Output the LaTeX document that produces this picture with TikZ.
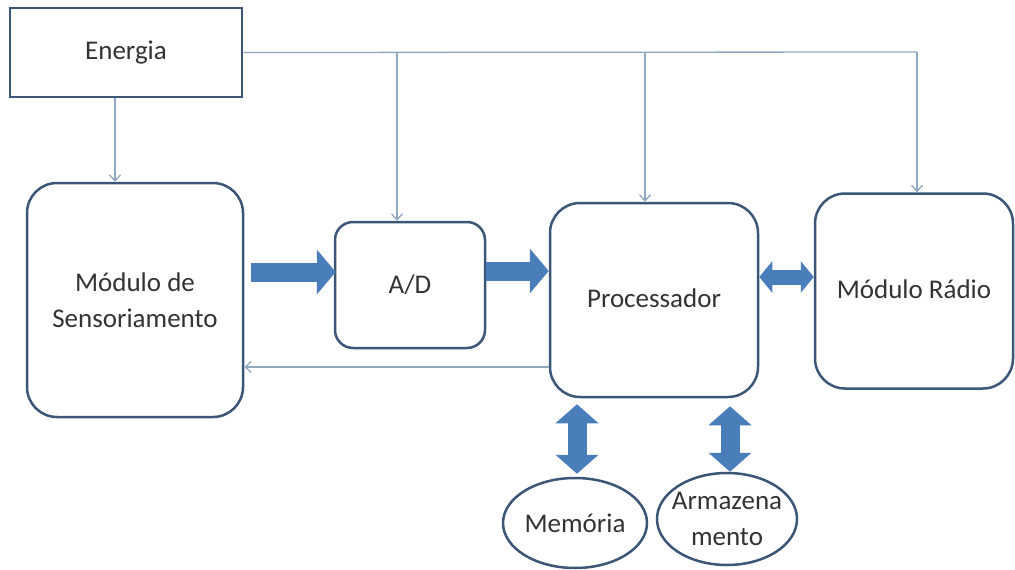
\documentclass[tikz,border=0pt]{standalone}
\usepackage{fontspec}
\setmainfont{Carlito}
\usetikzlibrary{arrows.meta,calc,shapes.geometric}
\definecolor{edge}{HTML}{3B5676}
\definecolor{flow}{HTML}{4A7EBB}
\definecolor{feed}{HTML}{8FA7C1}
\definecolor{ink}{HTML}{333333}
\begin{document}
\begin{tikzpicture}[x=1pt,y=-1pt,
  lbl/.style={text=ink,font=\fontsize{27}{36}\selectfont,align=center},
  blockbox/.style={draw=edge,line width=2.5pt,fill=white,inner sep=0pt,lbl},
  roundbox/.style={blockbox,rounded corners=#1},
  oval/.style={ellipse,draw=edge,line width=2.5pt,fill=white,inner sep=0pt},
  feedline/.style={draw=feed,line width=1.3pt,-{Straight Barb[length=6pt,width=11pt]}},
  fat/.style={draw=flow,line width=19pt,-{Triangle[length=19pt,width=44pt]}},
]
\useasboundingbox (0,0) rectangle (1015,570);

% blocks
\node[blockbox,minimum width=232pt,minimum height=89pt] (energia) at (126,52.5) {Energia};
\node[roundbox=30pt,minimum width=216pt,minimum height=234pt] (sens) at (135,300) {Módulo de\\Sensoriamento};
\node[roundbox=18pt,minimum width=150pt,minimum height=126pt] (ad) at (410,285) {A/D};
\node[roundbox=30pt,minimum width=208pt,minimum height=194pt] (proc) at (654,300) {\raisebox{3pt}{Processador}};
\node[roundbox=30pt,minimum width=198pt,minimum height=195pt] (radio) at (914,291) {\raisebox{3pt}{Módulo Rádio}};
\node[oval,minimum width=144pt,minimum height=90pt,
      label={[lbl]center:Memória}] (mem) at (575,523) {};
\node[oval,minimum width=140pt,minimum height=92pt,
      label={[lbl]center:Armazena\\mento}] (arm) at (727,519) {};

% power distribution
\coordinate (busR) at (917,52);
\coordinate (tapAD) at (397,52);
\coordinate (tapP) at (645,52);
\coordinate (eDrop) at ($(energia.south)+(-11,0)$);
\draw[draw=feed,line width=1.3pt] (energia.east) -- (busR);
\draw[feedline] (busR) -- (busR |- radio.north);
\draw[feedline] (tapAD) -- (tapAD |- ad.north);
\draw[feedline] (tapP) -- (tapP |- proc.north);
\draw[feedline] (eDrop) -- (eDrop |- sens.north);

% control feedback
\coordinate (fb) at ($(proc.west)+(0,67)$);
\draw[feedline] (fb) -- (fb -| sens.east);

% data flow
\draw[fat] ($(sens.east)+(7,-28)$) -- ($(ad.west)+(2,-13)$);
\draw[fat] ($(ad.east)+(0,-14)$) -- ($(proc.west)+(0,-29)$);
\draw[draw=flow,line width=15pt,{Triangle[length=13pt,width=31pt]}-{Triangle[length=13pt,width=31pt]}]
  ($(proc.east)+(0,-23)$) -- ($(radio.west)+(0,-14)$);
\draw[draw=flow,line width=19pt,{Triangle[length=19pt,width=42pt]}-{Triangle[length=19pt,width=42pt]}]
  ($(proc.south)+(-77,6)$) -- ($(mem.north)+(2,-3)$);
\draw[draw=flow,line width=19pt,{Triangle[length=19pt,width=42pt]}-{Triangle[length=19pt,width=42pt]}]
  ($(proc.south)+(76,8)$) -- ($(arm.north)+(3,0)$);
\end{tikzpicture}
\end{document}
